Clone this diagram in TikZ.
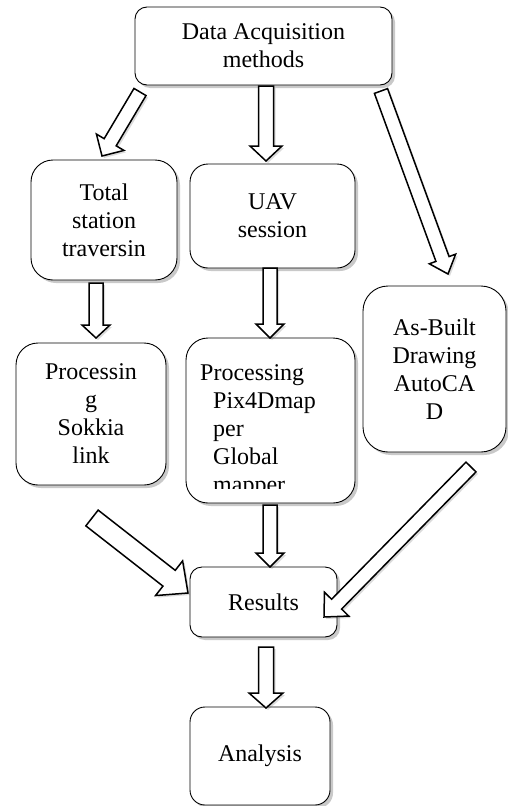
\documentclass[tikz,border=0pt]{standalone}
\usepackage{fontspec}
\setmainfont{Liberation Serif}
\usetikzlibrary{calc,shadows}
\tikzset{
  box/.style={draw=black, line width=0.9pt, rounded corners=#1, fill=white,
    align=center, inner sep=0pt, font=\fontsize{24}{28}\selectfont,
    drop shadow={shadow xshift=3pt, shadow yshift=-3pt, opacity=0.3, fill=black!70}},
  box/.default=14pt,
  barrow/.style={draw=black, line width=1.5pt, fill=white, line join=miter,
    drop shadow={shadow xshift=2pt, shadow yshift=-2pt, opacity=0.2, fill=black!70}},
  txt/.style={font=\fontsize{24}{28}\selectfont, inner sep=0pt},
}
% start, end, shaft half width, head half width, head length
\newcommand{\blockarrow}[5]{%
  \coordinate (ba-n) at ($(#2)!#5!(#1)$);
  \draw[barrow] ($(#1)!#3!90:(#2)$) -- ($(ba-n)!#3!90:(#2)$) -- ($(ba-n)!#4!90:(#2)$)
     -- (#2) -- ($(ba-n)!#4!-90:(#2)$) -- ($(ba-n)!#3!-90:(#2)$) -- ($(#1)!#3!-90:(#2)$) -- cycle;
}
\begin{document}
\begin{tikzpicture}[x=1pt,y=-1pt]
\useasboundingbox (0,0) rectangle (507,806);

% boxes
\node[box=12pt, minimum width=257pt, minimum height=78pt] (data) at (263.5,46) {Data Acquisition\\methods};
\node[box=22pt, minimum width=146pt, minimum height=120pt] (total) at (104,220) {Total\\station\\traversin};
\node[box=18pt, minimum width=165pt, minimum height=104pt] (uav) at (272.5,216) {UAV\\session};
\node[box=25pt, minimum width=143pt, minimum height=166pt] (asbuilt) at (434.5,369) {As-Built\\Drawing\\AutoCA\\D};
\node[box=22pt, minimum width=150pt, minimum height=142pt] (sokkia) at (91,414) {Processin\\g\\Sokkia\\link};
\node[box=22pt, minimum width=169pt, minimum height=165pt] (pix) at (270.5,420.5) {};
\begin{scope}
  \clip (187,339) rectangle (354,488);
  \node[txt, anchor=base west, align=left] (pixtext) at (200,492)
    {Processing\\\hspace*{13pt}Pix4Dmap\\\hspace*{13pt}per\\\hspace*{13pt}Global\\\hspace*{13pt}mapper};
\end{scope}
\node[box=12pt, minimum width=147pt, minimum height=70pt] (results) at (263.5,602) {Results};
\node[box=15pt, minimum width=140pt, minimum height=98pt] (analysis) at (260,756) {Analysis};

% arrow end points
\coordinate (a1s) at (140,92);  \coordinate (a1e) at (102,156);
\coordinate (a2s) at (266,86);  \coordinate (a2e) at (266,161);
\coordinate (a3s) at (381,91);  \coordinate (a3e) at (448,274);
\coordinate (a4s) at (96,283);  \coordinate (a4e) at (96,338);
\coordinate (a5s) at (270,268); \coordinate (a5e) at (270,338);
\coordinate (a6s) at (92,518);  \coordinate (a6e) at (188,593);
\coordinate (a7s) at (270,505); \coordinate (a7e) at (270,567);
\coordinate (a8s) at (471,467); \coordinate (a8e) at (324,617);
\coordinate (a9s) at (266,647); \coordinate (a9e) at (266,708);

\blockarrow{a1s}{a1e}{7pt}{16pt}{16pt}
\blockarrow{a2s}{a2e}{7.5pt}{16pt}{15pt}
\blockarrow{a3s}{a3e}{7pt}{14pt}{16pt}
\blockarrow{a4s}{a4e}{7pt}{14pt}{13pt}
\blockarrow{a5s}{a5e}{7pt}{14pt}{14pt}
\blockarrow{a6s}{a6e}{10pt}{22pt}{24pt}
\blockarrow{a7s}{a7e}{7pt}{14pt}{14pt}
\blockarrow{a8s}{a8e}{7pt}{17pt}{18pt}
\blockarrow{a9s}{a9e}{7.5pt}{17pt}{15pt}
\end{tikzpicture}
\end{document}
